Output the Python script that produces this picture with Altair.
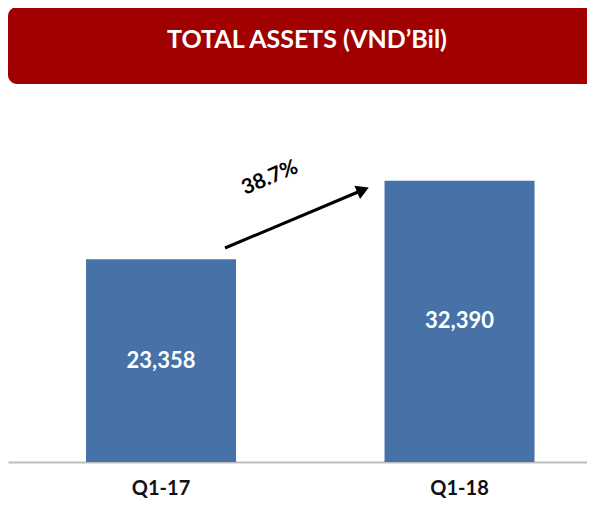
import altair as alt
import pandas as pd

# ---- data ----
categories = ["Q1-17", "Q1-18"]
values = [23358, 32390]
title_text = "TOTAL ASSETS (VND\u2019Bil)"

growth = values[1] / values[0] - 1
growth_label = f"{growth * 100:.1f}%"

df = pd.DataFrame({"period": categories, "assets": values})
df["label"] = [f"{v:,}" for v in values]
df["mid"] = [v / 2 for v in values]

W, H = 579, 454
BAR = "#4672a8"
RED = "#a00000"

x = alt.X(
    "period:N",
    sort=categories,
    scale=alt.Scale(paddingInner=0.4975, paddingOuter=0.2186, align=0.598, round=False),
    axis=alt.Axis(
        title=None,
        labelAngle=0,
        ticks=False,
        grid=False,
        domainColor="#bdbdbd",
        domainWidth=2,
        labelFont="Lato",
        labelFontWeight="bold",
        labelFontSize=20,
        labelColor="#111111",
        labelPadding=16,
    ),
)
yscale = alt.Scale(domain=[0, 52300], nice=False, zero=True)

bars = alt.Chart(df).mark_bar(color=BAR, width=150).encode(
    x=x,
    y=alt.Y("assets:Q", scale=yscale, axis=None),
)

labels = alt.Chart(df).mark_text(
    color="white", font="Lato", fontWeight="bold", fontSize=22, baseline="middle", align="center"
).encode(
    x=alt.X("period:N", sort=categories),
    y=alt.Y("mid:Q", scale=yscale),
    text="label:N",
)

one = alt.Data(values=[{}])

banner = alt.Chart(one).mark_rect(
    color=RED, cornerRadiusTopLeft=9, cornerRadiusBottomLeft=9,
    cornerRadiusTopRight=0, cornerRadiusBottomRight=0,
).encode(
    x=alt.value(0), x2=alt.value(W), y=alt.value(-1), y2=alt.value(76)
)
title = alt.Chart(one).mark_text(
    text=title_text, color="white", font="Lato", fontWeight="bold", fontSize=25,
    baseline="middle", align="center"
).encode(x=alt.value(299), y=alt.value(32))

arrow_line = alt.Chart(one).mark_rule(color="black", strokeWidth=3).encode(
    x=alt.value(217), y=alt.value(240), x2=alt.value(350), y2=alt.value(184)
)
arrow_head = alt.Chart(one).mark_point(
    shape="triangle-up", filled=True, color="black", opacity=1, size=210, angle=67
).encode(x=alt.value(355), y=alt.value(182))
growth_text = alt.Chart(one).mark_text(
    text=growth_label, color="black", font="Lato", fontWeight="bold", fontSize=21,
    angle=337, baseline="middle", align="center"
).encode(x=alt.value(262), y=alt.value(170))

chart = alt.layer(
    banner, title, bars, labels, arrow_line, arrow_head, growth_text
).properties(
    width=W, height=H,
    autosize=alt.AutoSizeParams(type="none"),
    padding={"left": 0, "top": 0, "right": 0, "bottom": 37},
).configure_view(stroke=None)

chart.save("out.html", embed_options={"renderer": "svg", "actions": False})
